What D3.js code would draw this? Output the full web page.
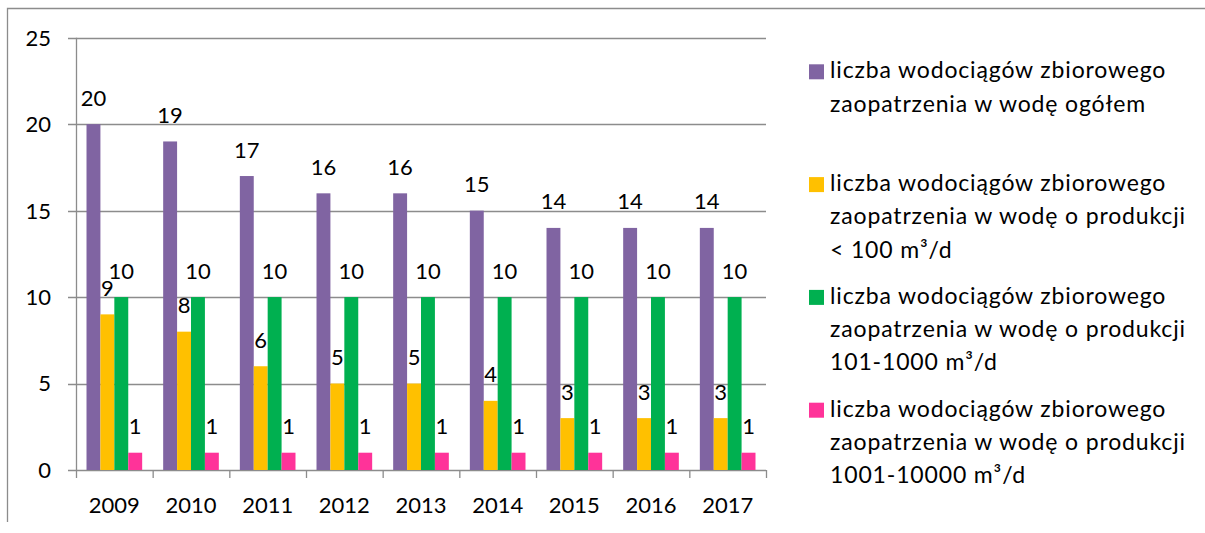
<!DOCTYPE html>
<html><head><meta charset="utf-8">
<script src="https://cdn.jsdelivr.net/npm/d3@7"></script>
<style>body{margin:0;background:#fff}svg{display:block}text{font-family:Lato,"Open Sans",sans-serif;fill:#000}</style>
</head><body>
<script>
const years = ["2009","2010","2011","2012","2013","2014","2015","2016","2017"];
const seriesNames = [
  ["liczba wodociągów zbiorowego","zaopatrzenia w wodę ogółem"],
  ["liczba wodociągów zbiorowego","zaopatrzenia w wodę o produkcji","< 100 m³/d"],
  ["liczba wodociągów zbiorowego","zaopatrzenia w wodę o produkcji","101-1000 m³/d"],
  ["liczba wodociągów zbiorowego","zaopatrzenia w wodę o produkcji","1001-10000 m³/d"]
];
const total = [20,19,17,16,16,15,14,14,14];
const below100 = [9,8,6,5,5,4,3,3,3];
const from101to1000 = [10,10,10,10,10,10,10,10,10];
const from1001to10000 = [1,1,1,1,1,1,1,1,1];
const yTicks = [0,5,10,15,20,25];
const colors = ["#8064A2","#FFC000","#00B050","#FF3399"];
const series = [total, below100, from101to1000, from1001to10000];

const W=1205,H=533;
const svg=d3.select("body").append("svg").attr("width",W).attr("height",H);
const FS=22;

// outer border
svg.append("path").attr("d","M7.5,522 V8.5 H1205").attr("fill","none").attr("stroke","#8c8c8c").attr("stroke-width",1.3);

const x0=76,x1=766,yTop=37.7,yBot=470;
const x=d3.scaleBand().domain(years).range([x0,x1]).paddingInner(0).paddingOuter(0);
const gap=x.bandwidth()*0.137;
const inner=d3.scaleBand().domain(d3.range(4)).range([gap,x.bandwidth()-gap]).paddingInner(0);
const y=d3.scaleLinear().domain([0,25]).range([yBot,yTop]);

// gridlines
svg.append("g").selectAll("line").data(yTicks).join("line")
  .attr("x1",x0-8).attr("x2",x1).attr("y1",d=>Math.round(y(d))+0.5).attr("y2",d=>Math.round(y(d))+0.5)
  .attr("stroke","#8c8c8c").attr("stroke-width",1.3);
// y axis line
svg.append("line").attr("x1",x0+0.5).attr("x2",x0+0.5).attr("y1",y(25)).attr("y2",y(0)).attr("stroke","#8c8c8c").attr("stroke-width",1.3);
// x ticks
const xt=years.map((d,i)=>x0+i*x.bandwidth()).concat([x1]);
svg.append("g").selectAll("line").data(xt).join("line")
  .attr("x1",d=>d+0.5).attr("x2",d=>d+0.5).attr("y1",yBot).attr("y2",yBot+8)
  .attr("stroke","#8c8c8c").attr("stroke-width",1.3);

// y labels
svg.append("g").selectAll("text").data(yTicks).join("text")
  .attr("x",51).attr("y",d=>y(d)).attr("dy","0.36em").attr("text-anchor","end").attr("font-size",FS).text(d=>d);
// x labels
svg.append("g").selectAll("text").data(years).join("text")
  .attr("x",d=>x(d)+x.bandwidth()/2).attr("y",513).attr("text-anchor","middle").attr("font-size",FS).text(d=>d);

// bars
series.forEach((vals,si)=>{
  const g=svg.append("g");
  g.selectAll("rect").data(vals).join("rect")
    .attr("x",(d,i)=>x(years[i])+inner(si)).attr("width",inner.bandwidth())
    .attr("y",d=>y(d)).attr("height",d=>y(0)-y(d)).attr("fill",colors[si]);
  g.selectAll("text").data(vals).join("text")
    .attr("x",(d,i)=>x(years[i])+inner(si)+inner.bandwidth()/2).attr("y",d=>y(d)-18.5)
    .attr("text-anchor","middle").attr("font-size",FS).text(d=>d);
});

// legend
const lg=svg.append("g");
seriesNames.forEach((lines,i)=>{
  const by=78.3+i*112.8;
  lg.append("rect").attr("x",809).attr("y",by-14).attr("width",15).attr("height",15).attr("fill",colors[i]);
  lines.forEach((t,j)=>{
    lg.append("text").attr("x",830).attr("y",by+j*33.2).attr("font-size",23)
      .attr("letter-spacing","0.85px").text(t);
  });
});
</script>
</body></html>
